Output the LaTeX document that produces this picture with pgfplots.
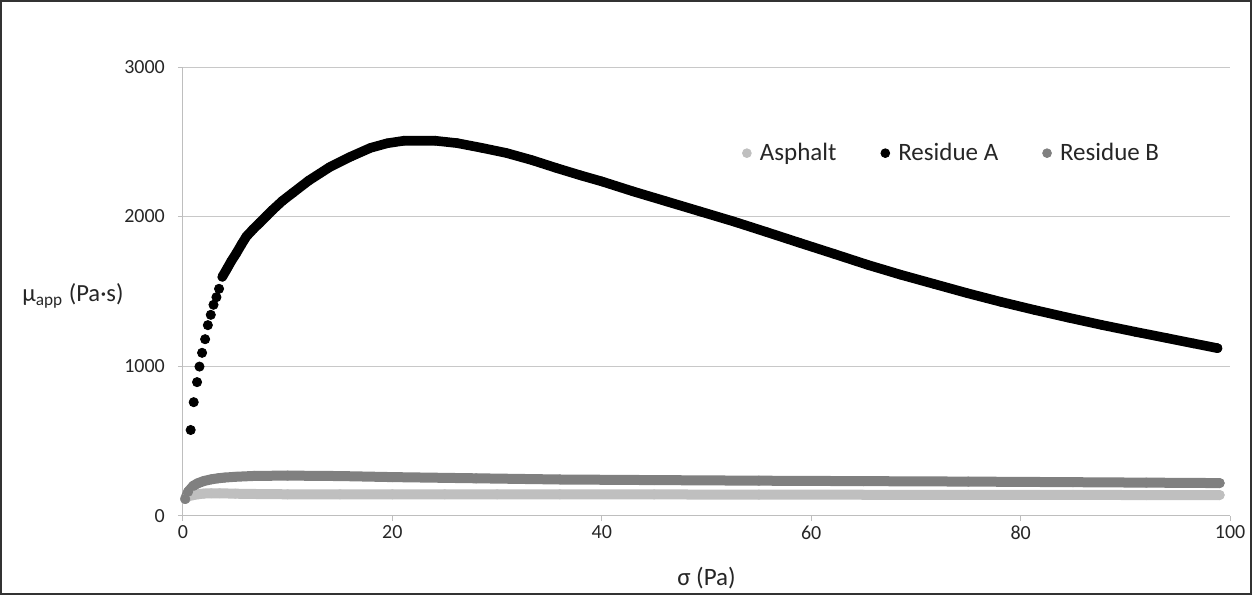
\documentclass[border=0pt]{standalone}
\usepackage{pgfplots}
\pgfplotsset{compat=1.18}
\usepackage{fontspec}
\setmainfont{Carlito}
\definecolor{asph}{RGB}{191,191,191}
\definecolor{resB}{RGB}{128,128,128}
\definecolor{gridc}{RGB}{200,200,200}
\definecolor{axc}{RGB}{190,190,190}
\begin{document}
\begin{tikzpicture}
\begin{axis}[
  at={(0,0)}, anchor=south west,
  scale only axis, width=523.5pt, height=224.3pt,
  xmin=0, xmax=100, ymin=0, ymax=3000,
  xtick={0,20,40,60,80,100}, ytick={0,1000,2000,3000},
  ymajorgrids, grid style={gridc, line width=0.5pt},
  axis x line*=bottom, axis y line*=left,
  axis line style={axc, line width=0.5pt},
  tick style={axc, line width=0.5pt},
  major tick length=2.5pt, tick align=outside,
  /pgf/number format/assume math mode=true,
  /pgf/number format/1000 sep={},
  tick label style={font=\fontsize{10}{12}\selectfont, text=black!85},
  yticklabel style={xshift=-3pt},
  xticklabel style={yshift=1pt},
  clip=false,
  every axis x label/.style={at={(axis description cs:0.5,-0.139)}, anchor=center},
  every axis y label/.style={at={(axis description cs:-0.105,0.49)}, anchor=center},
  xlabel={\fontsize{12.5}{15}\selectfont σ (Pa)},
  ylabel={\fontsize{12.3}{15}\selectfont μ\textsubscript{app} (Pa·s)},
  label style={text=black!85},
  legend columns=3,
  legend style={at={(axis description cs:0.735,0.808)}, anchor=center, draw=none, fill=none,
    font=\fontsize{12.5}{15}\selectfont, text=black!85,
    /tikz/every even column/.append style={column sep=20pt}},
  legend image code/.code={\fill[#1] (2.5pt,0pt) circle (2.2pt); \path (6.8pt,0pt);},
]
\addlegendimage{asph}
\addlegendentry{Asphalt}
\addlegendimage{black}
\addlegendentry{Residue A}
\addlegendimage{resB}
\addlegendentry{Residue B}

% Asphalt
\addplot[forget plot, asph, line width=5pt, line cap=round, line join=round, mark=*, mark size=2.3pt, mark options={line width=0.4pt}] coordinates {
(0.22,112) (0.5,130) (1,138) (1.5,144) (2,148) (2.7,150) (3.5,150) (5,147) (7,145) (10,143)
(15,143) (20,143) (25,143) (30,143) (36,143) (45,142) (55,141) (65,140) (75,140) (85,139) (92,138) (99,138)
};

% Residue A (sparse scatter start)
\addplot[forget plot, only marks, black, mark=*, mark size=2.3pt] coordinates {
(0.74,573) (1.03,759) (1.35,893) (1.58,997) (1.83,1089) (2.12,1180) (2.38,1274)
(2.66,1343) (2.92,1410) (3.2,1461) (3.45,1517)
};
% Residue A (dense part)
\addplot[forget plot, black, line width=4.8pt, line cap=round, line join=round, mark=*, mark size=2.2pt, mark options={line width=0.4pt}] coordinates {
(3.76,1597) (4.2,1650) (4.6,1700) (5.1,1755) (5.6,1815) (6.06,1867) (6.7,1915) (7.33,1958)
(8.0,2005) (8.57,2045) (9.5,2105) (10.5,2159) (12,2240) (14,2330) (16,2400) (17.9,2459)
(19.5,2490) (21.1,2507) (24.1,2507) (26.2,2491) (28.5,2460) (30.9,2425) (33.3,2378)
(35.7,2324) (38,2275) (40,2235) (43,2168) (46.2,2101) (49.4,2034) (52.6,1967) (55.8,1895)
(59,1822) (62.2,1750) (65.4,1677) (68.5,1612) (71.7,1550) (74.9,1488) (78.1,1430)
(81.3,1376) (84.5,1325) (87.7,1276) (90.9,1230) (94,1187) (96.5,1152) (98.8,1120)
};

% Residue B
\addplot[forget plot, resB, line width=5pt, line cap=round, line join=round, mark=*, mark size=2.3pt, mark options={line width=0.4pt}] coordinates {
(0.22,112) (0.5,160) (1,200) (1.43,217) (2,232) (2.7,243) (3.35,250) (4,255) (5,260) (6.85,266)
(10,268) (15,265) (20,258) (28,250) (36,242) (45,238) (55,234) (65,231) (75,228) (85,224) (92,221) (99,218)
};
\end{axis}
\draw[black!80, line width=0.9pt] (-91pt,-39.15pt) rectangle (534pt,257.35pt);
\end{tikzpicture}
\end{document}
